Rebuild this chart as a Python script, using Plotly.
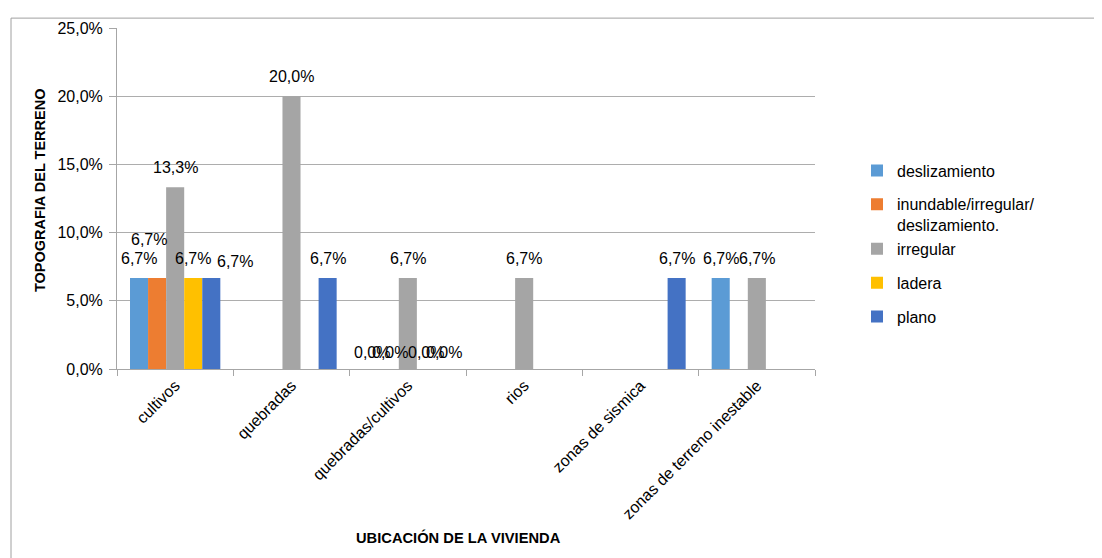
import plotly.graph_objects as go

categories = ["cultivos", "quebradas", "quebradas/cultivos", "rios",
              "zonas de sismica", "zonas de terreno inestable"]
series_names = ["deslizamiento", "inundable/irregular/<br>deslizamiento.",
                "irregular", "ladera", "plano"]
deslizamiento = [0.0667, None, 0.0, None, None, 0.0667]
inundable = [0.0667, None, 0.0, None, None, None]
irregular = [0.1333, 0.2000, 0.0667, 0.0667, None, 0.0667]
ladera = [0.0667, None, 0.0, None, None, None]
plano = [0.0667, 0.0667, 0.0, None, 0.0667, None]
series_values = [deslizamiento, inundable, irregular, ladera, plano]
colors = ["#5B9BD5", "#ED7D31", "#A5A5A5", "#FFC000", "#4472C4"]
y_ticks = [0, 0.05, 0.10, 0.15, 0.20, 0.25]

W, H = 1102, 558
OFF = 8  # page body margin
ML, MT = 117, 24          # plot area left/top in window pixels
PW, PH = 698, 345         # plot area size
BARGAP = 0.2236
FONT = "Liberation Sans, Arial, sans-serif"
FS = 16

# label adjustments (pixel) to avoid collisions, like the original
label_adjust = {(1, 0): (-8, 19), (4, 0): (24, -3)}


def px_x(p):
    return (p - ML) / PW


def px_y(p):
    return (MT + PH - p) / PH


fig = go.Figure()
groups = ["g1", "g2", "g2", "g3", "g4"]
for i, (name, vals, col) in enumerate(zip(series_names, series_values, colors)):
    fig.add_trace(go.Bar(
        x=categories, y=vals, name=name, marker=dict(color=col, line=dict(width=0)),
        legendgroup=groups[i], hoverinfo="skip"))

bar_px = PW / len(categories) * (1 - BARGAP) / len(series_values)
annotations = []
for i, vals in enumerate(series_values):
    for j, v in enumerate(vals):
        if v is None:
            continue
        dx, dy = label_adjust.get((i, j), (0, 0))
        txt = f"{v*100:.1f}%".replace(".", ",")
        annotations.append(dict(
            x=categories[j], y=v, xref="x", yref="y", text=txt, showarrow=False,
            xanchor="center", yanchor="middle",
            xshift=(i - (len(series_values) - 1) / 2) * bar_px + dx,
            yshift=(20 if v > 0 else 17) + dy,
            font=dict(family=FONT, size=FS, color="#000000")))

annotations.append(dict(
    x=px_x(40), y=px_y(188), xref="paper", yref="paper", text="<b>TOPOGRAFIA DEL TERRENO</b>",
    textangle=-90, showarrow=False, xanchor="center", yanchor="middle",
    font=dict(family=FONT, size=14.5, color="#000000")))
annotations.append(dict(
    x=px_x(458), y=px_y(539), xref="paper", yref="paper",
    text="<b>UBICACIÓN DE LA VIVIENDA</b>", showarrow=False, xanchor="center", yanchor="middle",
    font=dict(family=FONT, size=14.7, color="#000000")))

shapes = [dict(type="rect", xref="paper", yref="paper",
               x0=px_x(11), x1=px_x(W + 30), y0=px_y(H + 30), y1=px_y(14),
               line=dict(color="#A0A0A0", width=1), fillcolor="rgba(0,0,0,0)", layer="below")]

l = ML - OFF
t = MT - OFF
fig.update_layout(
    width=W, height=H, margin=dict(l=l, r=W - l - PW, t=t, b=H - t - PH),
    paper_bgcolor="white", plot_bgcolor="white",
    barmode="group", bargap=BARGAP, bargroupgap=0,
    separators=",.",
    font=dict(family=FONT, size=FS, color="#000000"),
    annotations=annotations, shapes=shapes,
    legend=dict(x=px_x(857), y=px_y(151), xanchor="left", yanchor="top",
                tracegroupgap=10, valign="top", font=dict(family=FONT, size=FS),
                bgcolor="rgba(0,0,0,0)"),
    xaxis=dict(type="category", showgrid=False, showline=True, linecolor="#A6A6A6",
               ticks="outside", tickson="boundaries", ticklen=6, tickcolor="#A6A6A6",
               tickangle=-45, tickfont=dict(family=FONT, size=FS)),
    yaxis=dict(range=[0, 0.25], tickvals=y_ticks, tickformat=".1%", showgrid=True,
               gridcolor="#ADADAD", showline=True, linecolor="#A6A6A6", ticks="outside",
               ticklen=7, tickcolor="#A6A6A6", zeroline=False, ticklabelstandoff=3,
               tickfont=dict(family=FONT, size=FS)),
)

fig.write_html("out.html")
